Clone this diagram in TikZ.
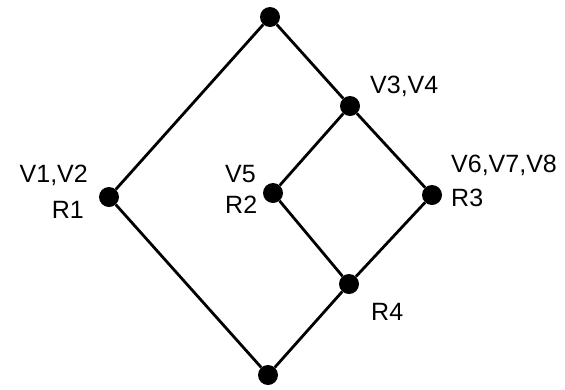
\documentclass[tikz,border=0pt]{standalone}
\usepackage{fontspec}
\setmainfont{Liberation Sans}
\begin{document}
\begin{tikzpicture}[x=1pt,y=-1pt,
  vertex/.style={circle,fill=black,draw=none,minimum size=20pt,inner sep=0pt},
  edge/.style={line width=2.8pt,black},
  lbl/.style={inner sep=0pt,font=\fontsize{25}{25}\selectfont}]
\useasboundingbox (0,0) rectangle (565,389);
% lattice vertices
\node[vertex] (top) at (270,17) {};
\node[vertex] (v34) at (350,106) {};
\node[vertex] (r1) at (109,197) {};
\node[vertex] (r2) at (273,193) {};
\node[vertex] (r3) at (432,195) {};
\node[vertex] (r4) at (349,284) {};
\node[vertex] (bot) at (268,375) {};
% connections
\draw[edge] (top) -- (r1);
\draw[edge] (top) -- (v34);
\draw[edge] (v34) -- (r2);
\draw[edge] (v34) -- (r3);
\draw[edge] (r2) -- (r4);
\draw[edge] (r3) -- (r4);
\draw[edge] (r4) -- (bot);
\draw[edge] (r1) -- (bot);
% labels
\node[lbl,anchor=base east] (l12) at (88,182) {V1,V2};
\node[lbl,anchor=base east] (lr1) at (84,218) {R1};
\node[lbl,anchor=base west] (l5) at (225,182) {V5};
\node[lbl,anchor=base west] (lr2) at (225,213) {R2};
\node[lbl,anchor=base west] (l34) at (370,93) {V3,V4};
\node[lbl,anchor=base west] (l678) at (451,172) {V6,V7,V8};
\node[lbl,anchor=base west] (lr3) at (451,206) {R3};
\node[lbl,anchor=base west] (lr4) at (371,320) {R4};
\end{tikzpicture}
\end{document}
